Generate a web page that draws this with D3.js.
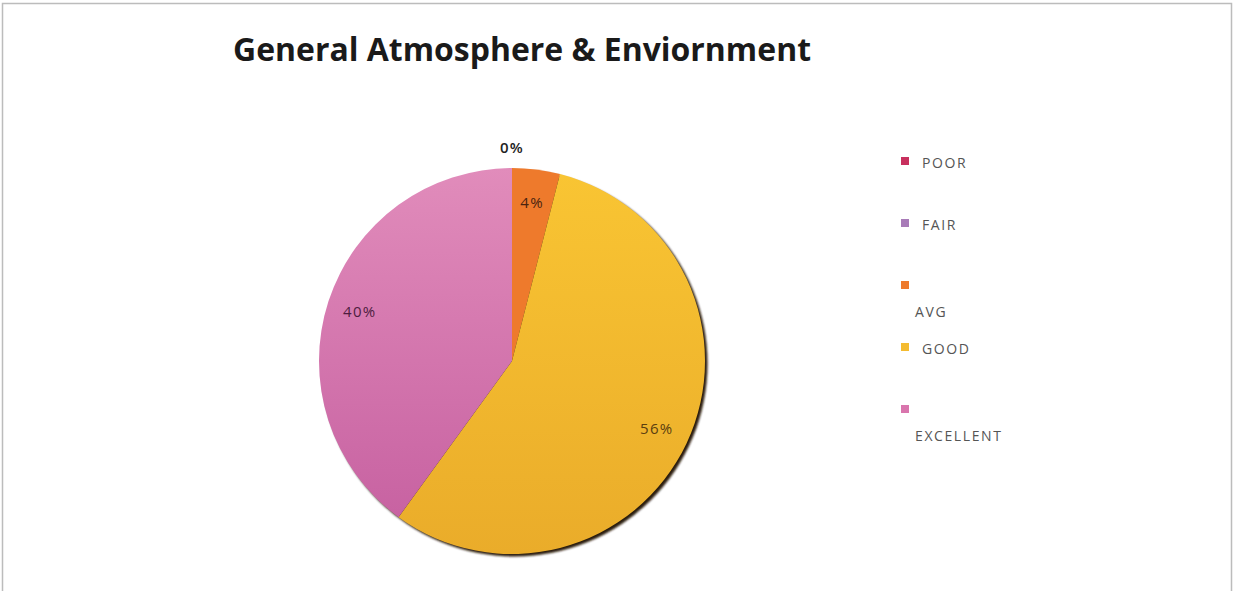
<!DOCTYPE html>
<html>
<head>
<meta charset="utf-8">
<script src="https://cdn.jsdelivr.net/npm/d3@7"></script>
<style>
  html, body { margin: 0; padding: 0; background: #fff; }
  svg { display: block; }
</style>
</head>
<body>
<svg id="chart" width="1234" height="591"></svg>
<script>
// Survey ratings for the general atmosphere & environment
const categories = ["POOR", "FAIR", "AVG", "GOOD", "EXCELLENT"];
const percents = [0, 0, 4, 56, 40];
const legendLines = [["POOR"], ["FAIR"], ["", "AVG"], ["GOOD"], ["", "EXCELLENT"]];
const titleText = "General Atmosphere & Enviornment";

const sliceColors = ["#c8305e", "#a87bb8", "#ee7a2c", "#f4bb30", "#d975ad"];
const gradStops = {
  GOOD: ["#f9c533", "#eaac2a"],
  EXCELLENT: ["#e18cbb", "#c55e9f"]
};

const svg = d3.select("#chart");
const W = 1234, H = 591;

// frame
svg.append("path")
  .attr("d", `M2.5,${H} V3.5 H1231.5 V${H}`)
  .attr("fill", "none")
  .attr("stroke", "#bcbcbc")
  .attr("stroke-width", 1.5);

// title
svg.append("text")
  .attr("x", 233)
  .attr("y", 61)
  .attr("font-family", "'Open Sans', 'DejaVu Sans', sans-serif")
  .attr("font-weight", 700)
  .attr("font-size", 33)
  .attr("textLength", 578)
  .attr("lengthAdjust", "spacingAndGlyphs")
  .attr("fill", "#1a1a1a")
  .text(titleText);

const cx = 512, cy = 361, R = 193;
const defs = svg.append("defs");

categories.forEach(c => {
  if (!gradStops[c]) return;
  const gr = defs.append("linearGradient")
    .attr("id", "grad-" + c)
    .attr("gradientUnits", "userSpaceOnUse")
    .attr("x1", 0).attr("y1", -R).attr("x2", 0).attr("y2", R);
  gr.append("stop").attr("offset", "0%").attr("stop-color", gradStops[c][0]);
  gr.append("stop").attr("offset", "100%").attr("stop-color", gradStops[c][1]);
});

defs.append("filter").attr("id", "soft")
  .append("feGaussianBlur").attr("stdDeviation", 1.2);

const data = categories.map((c, i) => ({ cat: c, value: percents[i], color: sliceColors[i] }));

const pie = d3.pie().sort(null).value(d => d.value).startAngle(0).endAngle(2 * Math.PI);
const arcs = pie(data);
const arc = d3.arc().innerRadius(0).outerRadius(R);
const labelArc = d3.arc().innerRadius(160).outerRadius(160);
const outerLabelArc = d3.arc().innerRadius(213).outerRadius(213);

const g = svg.append("g").attr("transform", `translate(${cx},${cy})`);

// dark rim shadow on the lower right edge
g.append("circle")
  .attr("cx", 2.5).attr("cy", 2.5).attr("r", R)
  .attr("fill", "#2a1a08")
  .attr("filter", "url(#soft)");

g.selectAll("path.slice")
  .data(arcs.filter(d => d.value > 0))
  .join("path")
  .attr("class", "slice")
  .attr("d", arc)
  .attr("fill", d => gradStops[d.data.cat] ? `url(#grad-${d.data.cat})` : d.data.color);

// value labels; zero-value slices share one label above the pie
const seenZero = new Set();
const labelData = arcs.filter(d => {
  if (d.value > 0) return true;
  const key = d.startAngle.toFixed(4);
  if (seenZero.has(key)) return false;
  seenZero.add(key);
  return true;
});
const labelFill = { AVG: "#4a2410", GOOD: "#5a3e10", EXCELLENT: "#4e1d40" };

g.selectAll("text.val")
  .data(labelData)
  .join("text")
  .attr("class", "val")
  .attr("transform", d => `translate(${(d.value > 0 ? labelArc : outerLabelArc).centroid(d)})`)
  .attr("text-anchor", "middle")
  .attr("dy", "0.35em")
  .attr("font-family", "'Open Sans', 'DejaVu Sans', sans-serif")
  .attr("font-size", 15)
  .attr("letter-spacing", 1.3)
  .attr("font-weight", d => d.value > 0 ? 400 : 600)
  .attr("fill", d => d.value > 0 ? labelFill[d.data.cat] : "#222")
  .text(d => d.value + "%");

// legend
const legendY = d3.scalePoint().domain(categories).range([161, 409]);
const legend = svg.append("g");
const rows = legend.selectAll("g").data(data).join("g")
  .attr("transform", d => `translate(901,${legendY(d.cat)})`);
rows.append("rect")
  .attr("x", 0).attr("y", -4)
  .attr("width", 8).attr("height", 8)
  .attr("fill", d => d.color);
rows.each(function(d, i) {
  const lines = legendLines[i];
  const t = d3.select(this).append("text")
    .attr("font-family", "'Open Sans', 'DejaVu Sans', sans-serif")
    .attr("font-size", 14)
    .attr("letter-spacing", 1.6)
    .attr("fill", "#555");
  if (lines.length === 1) {
    t.attr("x", 21).attr("y", 7).text(lines[0]);
  } else {
    t.attr("x", 14).attr("y", 32).text(lines[1]);
  }
});
</script>
</body>
</html>
